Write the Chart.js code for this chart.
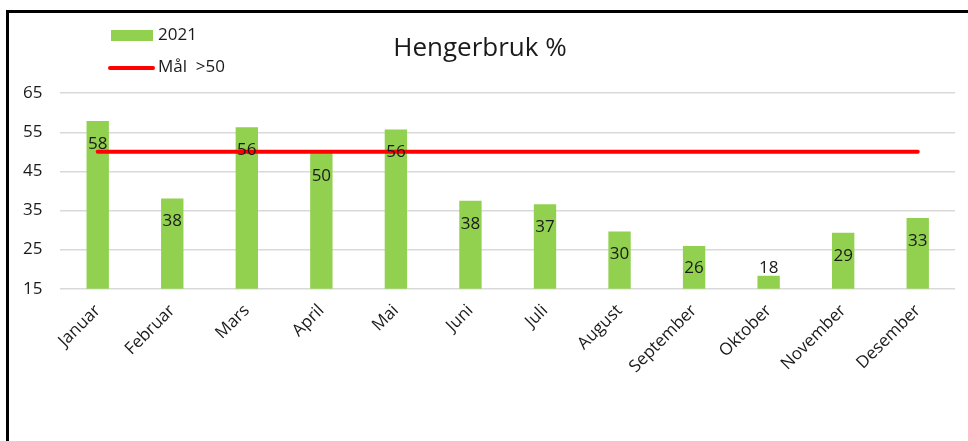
<!DOCTYPE html>
<html>
<head>
<meta charset="utf-8">
<title>Hengerbruk %</title>
<script src="https://cdn.jsdelivr.net/npm/chart.js@4.4.1/dist/chart.umd.min.js"></script>
<style>
    html, body { margin: 0; padding: 0; background: #fff; }
    #wrap { position: relative; width: 968px; height: 441px; overflow: hidden; }
    #frame {
        position: absolute; left: 6px; top: 10px; width: 1000px; height: 500px;
        border-left: 3px solid #000; border-top: 3px solid #000;
    }
    #hengerChart { position: absolute; left: 0; top: 0; }
</style>
</head>
<body>
<div id="wrap">
    <div id="frame"></div>
    <canvas id="hengerChart" width="968" height="441"></canvas>
</div>
<script>
// Data lest av bildet
const months = ['Januar', 'Februar', 'Mars', 'April', 'Mai', 'Juni', 'Juli', 'August', 'September', 'Oktober', 'November', 'Desember'];
const usage2021 = [57.9, 38.1, 56.3, 49.7, 55.7, 37.5, 36.6, 29.6, 25.9, 18.3, 29.3, 33.1];
const goal = [50, 50, 50, 50, 50, 50, 50, 50, 50, 50, 50, 50];
const yTicks = [15, 25, 35, 45, 55, 65];

const FONT = '"Open Sans", sans-serif';
const GREEN = '#92D050';
const RED = '#FF0000';

document.addEventListener('DOMContentLoaded', function() {
    initializeChart();
});

// Tall inne i stolpene
const barLabels = {
    id: 'barLabels',
    afterDatasetsDraw(chart) {
        const ctx = chart.ctx;
        const meta = chart.getDatasetMeta(0);
        const bottom = chart.scales.y.bottom;
        ctx.save();
        ctx.font = '17px ' + FONT;
        ctx.fillStyle = '#1a1a1a';
        ctx.textAlign = 'center';
        ctx.textBaseline = 'middle';
        meta.data.forEach((bar, i) => {
            const y = Math.min(bar.y + 23, bottom - 21);
            ctx.fillText(Math.round(usage2021[i]), bar.x, y);
        });
        ctx.restore();
    }
};

// Egen legend oppe til venstre
const cornerLegend = {
    id: 'cornerLegend',
    afterDraw(chart) {
        const ctx = chart.ctx;
        const sets = chart.data.datasets;
        ctx.save();
        ctx.font = '17px ' + FONT;
        ctx.textBaseline = 'middle';

        ctx.fillStyle = sets[0].backgroundColor;
        ctx.fillRect(111, 30, 42, 11);
        ctx.fillStyle = '#1a1a1a';
        ctx.fillText(sets[0].label, 158, 35);

        ctx.strokeStyle = sets[1].borderColor;
        ctx.lineWidth = 4;
        ctx.lineCap = 'round';
        ctx.beginPath();
        ctx.moveTo(110, 68);
        ctx.lineTo(153, 68);
        ctx.stroke();
        ctx.fillText(sets[1].label, 158, 67);
        ctx.restore();
    }
};

function initializeChart() {
    const ctx = document.getElementById('hengerChart').getContext('2d');
    window.hengerChart = new Chart(ctx, {
        type: 'bar',
        data: {
            labels: months,
            datasets: [{
                label: '2021',
                data: usage2021,
                backgroundColor: GREEN,
                barPercentage: 0.3,
                categoryPercentage: 1,
                order: 2
            }, {
                type: 'line',
                label: 'Mål  >50',
                data: goal,
                borderColor: RED,
                borderWidth: 4,
                borderCapStyle: 'round',
                pointRadius: 0,
                fill: false,
                order: 1
            }]
        },
        options: {
            responsive: false,
            animation: false,
            layout: {
                padding: { left: 5, right: 13, top: 0, bottom: 60 }
            },
            plugins: {
                legend: { display: false },
                tooltip: { enabled: false },
                title: {
                    display: true,
                    text: 'Hengerbruk %',
                    color: '#1a1a1a',
                    font: { family: FONT, size: 26, weight: 'normal' },
                    padding: { top: 33, bottom: 29 }
                }
            },
            scales: {
                x: {
                    offset: true,
                    grid: { display: false },
                    border: { display: false },
                    ticks: {
                        color: '#1a1a1a',
                        font: { family: FONT, size: 17 },
                        minRotation: 45,
                        maxRotation: 45,
                        padding: 4
                    }
                },
                y: {
                    min: 15,
                    max: 65,
                    afterBuildTicks: function(axis) {
                        axis.ticks = yTicks.map(v => ({ value: v }));
                    },
                    grid: { color: '#D9D9D9', lineWidth: 1.5, drawTicks: false },
                    border: { display: false },
                    ticks: {
                        color: '#1a1a1a',
                        font: { family: FONT, size: 17 },
                        padding: 18
                    }
                }
            }
        },
        plugins: [barLabels, cornerLegend]
    });
}
</script>
</body>
</html>
